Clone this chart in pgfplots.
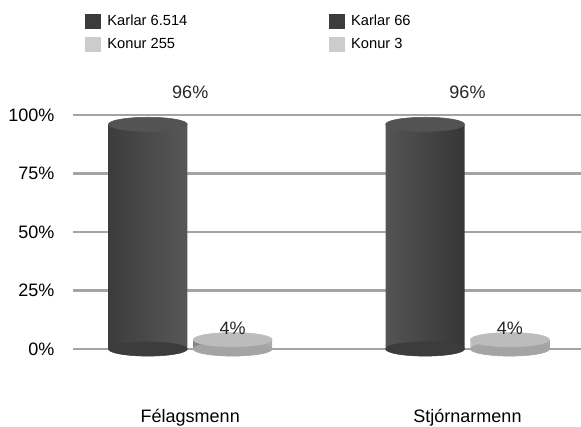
\documentclass[border=0pt]{standalone}
\usepackage{pgfplots}
\pgfplotsset{compat=1.18}
\usepackage{fontspec}
\setmainfont{Liberation Sans}
\definecolor{karlar}{HTML}{3C3C3C}
\definecolor{karlarhi}{HTML}{7A7A7A}
\definecolor{konur}{HTML}{CCCCCC}
\definecolor{konurside}{HTML}{A4A4A4}
\definecolor{gridgray}{HTML}{A4A4A4}
\pgfplotsset{
  pct/.style={nodes near coords={\pgfmathprintnumber{\pgfplotspointmeta}\%},
    every node near coord/.append style={font=\fontsize{13.5}{16}\selectfont, text=black!85}},
  rim/.style={forget plot, only marks, mark=*, mark size=29.6pt,
    color=#1, mark options={yscale=0.18, fill=#1, draw=#1}},
  sq/.style={legend image code/.code={\fill[#1] (0pt,-5.25pt) rectangle (11.25pt,5.25pt);}},
}
\begin{document}
\begin{tikzpicture}
\path[use as bounding box] (0pt,0pt) rectangle (435.75pt,320.25pt);
\begin{axis}[
  at={(54.75pt,40.95pt)}, anchor=south west,
  scale only axis, width=381pt, height=193.05pt,
  xmin=-0.4229, xmax=1.4094, ymin=-10, ymax=100,
  clip=false,
  axis line style={draw=none},
  tick style={draw=none},
  major tick length=0pt,
  ymajorgrids,
  major grid style={draw=gridgray, line width=1.8pt},
  ytick={0,25,50,75,100},
  yticklabels={0\%,25\%,50\%,75\%,100\%},
  xtick={0,1},
  xticklabels={Félagsmenn,Stjórnarmenn},
  tick label style={font=\fontsize{13.5}{16}\selectfont},
  yticklabel style={xshift=-10.5pt},
  xticklabel style={yshift=-24pt},
  /pgf/number format/assume math mode=true,
  legend columns=2,
  legend cell align=left,
  legend style={at={(0.0236,1.398)}, anchor=north west, draw=none, fill=none,
    inner sep=0pt, outer sep=0pt, row sep=3.5pt,
    font=\fontsize{11}{13}\selectfont,
    /tikz/column 1/.style={column sep=3.2pt},
    /tikz/column 2/.style={column sep=104pt},
    /tikz/column 3/.style={column sep=3.2pt}},
]
% legend
\addlegendimage{sq=karlar}
\addlegendentry{Karlar 6.514}
\addlegendimage{sq=karlar}
\addlegendentry{Karlar 66}
\addlegendimage{sq=konur}
\addlegendentry{Konur 255}
\addlegendimage{sq=konur}
\addlegendentry{Konur 3}
% bottom rims of the cylinders
\addplot[rim=karlar] coordinates {(-0.153,0) (0.847,0)};
\addplot[rim=konurside] coordinates {(0.153,0) (1.153,0)};
% Karlar
\addplot[forget plot, ybar, bar width=0.285, bar shift=-0.153, draw=none,
  left color=karlar, right color=karlar!90!black, middle color=karlarhi,
  pct, every node near coord/.append style={yshift=15.75pt}]
  coordinates {(0,96) (1,96)};
% Konur
\addplot[forget plot, ybar, bar width=0.285, bar shift=0.153, draw=none,
  left color=konurside!80!black, right color=konurside, middle color=konur!60!white]
  coordinates {(0,4) (1,4)};
% top caps
\addplot[rim=karlar!88!white] coordinates {(-0.153,96) (0.847,96)};
\addplot[rim=konur!92!black] coordinates {(0.153,4) (1.153,4)};
% value labels above the short bars, drawn after the caps
\addplot[forget plot, only marks, mark=none, pct]
  coordinates {(0.153,4) (1.153,4)};
\end{axis}
\end{tikzpicture}
\end{document}
